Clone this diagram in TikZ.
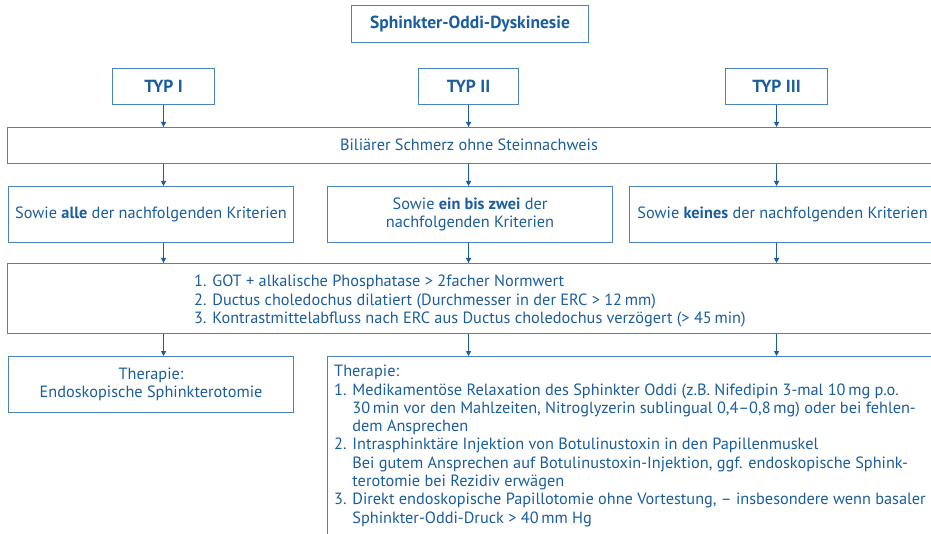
\documentclass[tikz,border=0pt]{standalone}
\usepackage{fontspec}
\setmainfont{PT Sans}
\usetikzlibrary{arrows.meta}
\definecolor{tblue}{HTML}{1B5E9F}
\definecolor{bblue}{HTML}{4A82BC}
\tikzset{
  box/.style={draw=bblue, line width=1.1pt, anchor=north west, inner sep=0pt,
    text=tblue, font=\fontsize{16.3}{18.5}\selectfont, align=center},
  hbox/.style={box, font=\fontsize{17.5}{18}\selectfont\bfseries},
  txt/.style={text=tblue, font=\fontsize{16.3}{18.3}\selectfont, inner sep=0pt},
  arr/.style={draw=tblue, line width=1.1pt, -{Triangle[length=5pt,width=5pt]}},
}
\begin{document}
\begin{tikzpicture}[x=1pt,y=-1pt]
\useasboundingbox (0,0) rectangle (931,534);
\fill[white] (0,0) rectangle (931,534);
\clip (0,0) rectangle (931,534);
% title
\node[hbox, minimum width=237, minimum height=37] (title) at (351,5) {Sphinkter-Oddi-Dyskinesie};
% types
\node[hbox, minimum width=102, minimum height=36] (t1) at (112,68) {TYP I};
\node[hbox, minimum width=100, minimum height=36] (t2) at (418,68) {TYP II};
\node[hbox, minimum width=102, minimum height=36] (t3) at (725,68) {TYP III};
% biliary
\node[box, minimum width=960, minimum height=36] (bil) at (7,127) {};
\node[txt] (biltext) at (469,145) {Biliärer Schmerz ohne Steinnachweis};
% sowie
\node[box, minimum width=285, minimum height=56] (s1) at (8,186) {Sowie \textbf{alle} der nachfolgenden Kriterien};
\node[box, minimum width=285, minimum height=56] (s2) at (327,186) {Sowie \textbf{ein bis zwei} der\\nachfolgenden Kriterien};
\node[box, minimum width=306, minimum height=56] (s3) at (629,186) {Sowie \textbf{keines} der nachfolgenden Kriterien};
% criteria
\node[box, minimum width=960, minimum height=70] (crit) at (7,263) {};
\node[txt, anchor=west, align=left, font=\fontsize{16.3}{18.5}\selectfont] (crittext) at (194,301) {1. GOT + alkalische Phosphatase > 2facher Normwert\\
2. Ductus choledochus dilatiert (Durchmesser in der ERC > 12\,mm)\\
3. Kontrastmittelabfluss nach ERC aus Ductus choledochus verzögert (> 45\,min)};
% therapies
\node[box, minimum width=285, minimum height=56] (th1) at (8,356) {Therapie:\\Endoskopische Sphinkterotomie};
\node[box, minimum width=640, minimum height=200] (th2) at (327,356) {};
\node[txt, anchor=north west, align=left] (th2text) at (334,365) {Therapie:\\
1. Medikamentöse Relaxation des Sphinkter Oddi (z.B. Nifedipin 3-mal 10\,mg p.o.\\
\phantom{1. }30\,min vor den Mahlzeiten, Nitroglyzerin sublingual 0,4–0,8\,mg) oder bei fehlen-\\
\phantom{1. }dem Ansprechen\\
2. Intrasphinktäre Injektion von Botulinustoxin in den Papillenmuskel\\
\phantom{2. }Bei gutem Ansprechen auf Botulinustoxin-Injektion, ggf. endoskopische Sphink-\\
\phantom{2. }terotomie bei Rezidiv erwägen\\
3. Direkt endoskopische Papillotomie ohne Vortestung, – insbesondere wenn basaler\\
\phantom{3. }Sphinkter-Oddi-Druck > 40\,mm Hg};
% arrows
\foreach \t in {t1,t2,t3}{
  \draw[arr] (\t.south) -- (\t |- bil.north);
  \draw[arr] (\t |- bil.south) -- (\t |- s1.north);
  \draw[arr] (\t |- s1.south) -- (\t |- crit.north);
  \draw[arr] (\t |- crit.south) -- (\t |- th1.north);
}
\end{tikzpicture}
\end{document}
